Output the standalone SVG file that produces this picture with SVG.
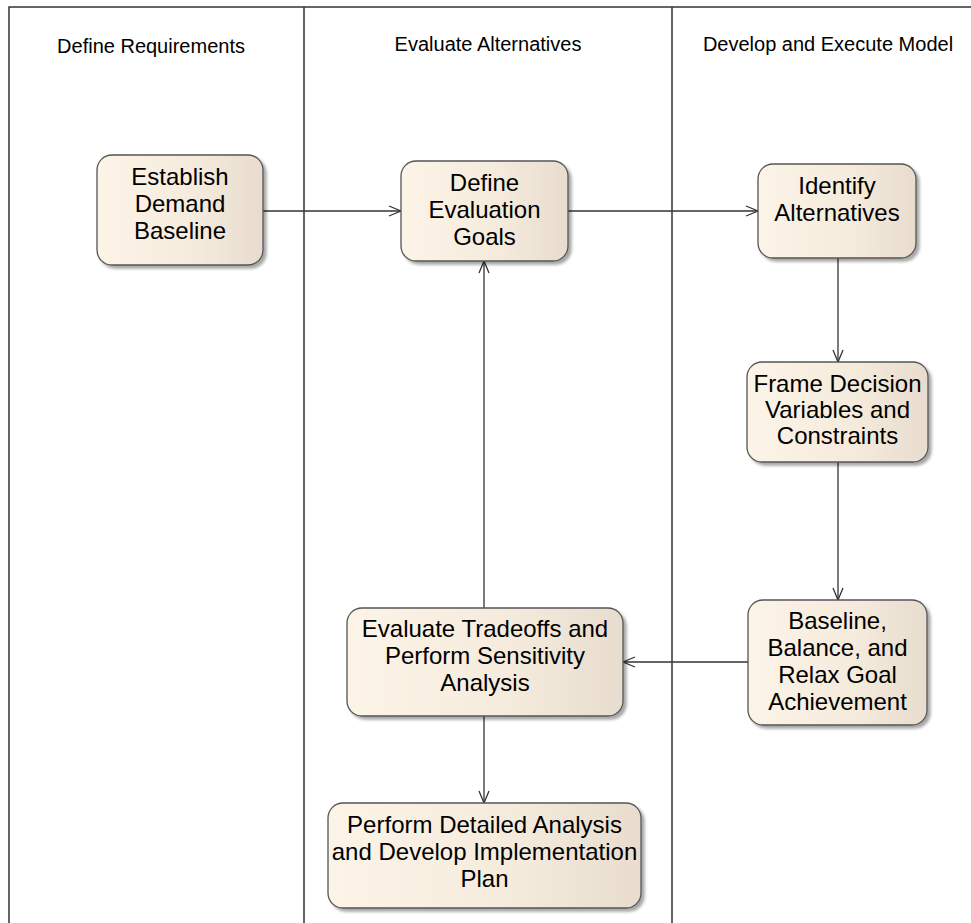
<svg xmlns="http://www.w3.org/2000/svg" width="971" height="923" viewBox="0 0 971 923">
<defs>
<linearGradient id="fill" x1="0" y1="0" x2="1" y2="0">
<stop offset="0" stop-color="#FCF4E7"/>
<stop offset="0.6" stop-color="#F5EBDD"/>
<stop offset="1" stop-color="#E7DCCD"/>
</linearGradient>
<filter id="shadow" x="-10%" y="-10%" width="125%" height="130%">
<feGaussianBlur in="SourceAlpha" stdDeviation="1.5"/>
<feOffset dx="3" dy="3" result="o"/>
<feComponentTransfer><feFuncA type="linear" slope="0.35"/></feComponentTransfer>
<feMerge><feMergeNode/><feMergeNode in="SourceGraphic"/></feMerge>
</filter>
<marker id="arrow" viewBox="0 0 14 12" refX="13" refY="6" markerWidth="14" markerHeight="12" markerUnits="userSpaceOnUse" orient="auto">
<path d="M1,1 L13,6 L1,11" fill="none" stroke="#333" stroke-width="1.3"/>
</marker>
</defs>
<style>
.lane{stroke:#333;stroke-width:1.5;fill:none}
.hdr{font-family:"Liberation Sans",Arial,sans-serif;font-size:20px;fill:#000;text-anchor:middle}
.box{fill:url(#fill);stroke:#555;stroke-width:1.3;filter:url(#shadow)}
.lbl{font-family:"Liberation Sans",Arial,sans-serif;font-size:24px;fill:#000;text-anchor:middle}
.conn{stroke:#333;stroke-width:1.3;fill:none;marker-end:url(#arrow)}
</style>
<rect width="971" height="923" fill="#fff"/>
<g id="lanes">
<path class="lane" d="M9,923 V7 H971" stroke="#666"/>
<line class="lane" x1="304" y1="7" x2="304" y2="923"/>
<line class="lane" x1="672" y1="7" x2="672" y2="923"/>
<text class="hdr" x="151" y="53">Define Requirements</text>
<text class="hdr" x="488" y="51">Evaluate Alternatives</text>
<text class="hdr" x="828" y="51">Develop and Execute Model</text>
</g>
<g id="connectors">
<line class="conn" x1="263" y1="211" x2="401" y2="211"/>
<line class="conn" x1="568" y1="211" x2="758" y2="211"/>
<line class="conn" x1="838" y1="258" x2="838" y2="362"/>
<line class="conn" x1="838" y1="462" x2="838" y2="600"/>
<line class="conn" x1="748" y1="662" x2="623" y2="662"/>
<line class="conn" x1="484" y1="608" x2="484" y2="261"/>
<line class="conn" x1="484" y1="716" x2="484" y2="803"/>
</g>
<g id="n1">
<rect class="box" x="97" y="155" width="166" height="110" rx="15"/>
<text class="lbl" x="180" y="185">Establish</text>
<text class="lbl" x="180" y="212">Demand</text>
<text class="lbl" x="180" y="239">Baseline</text>
</g>
<g id="n2">
<rect class="box" x="401" y="161" width="167" height="100" rx="15"/>
<text class="lbl" x="484.5" y="191">Define</text>
<text class="lbl" x="484.5" y="218">Evaluation</text>
<text class="lbl" x="484.5" y="245">Goals</text>
</g>
<g id="n3">
<rect class="box" x="758" y="164" width="158" height="94" rx="15"/>
<text class="lbl" x="837" y="194">Identify</text>
<text class="lbl" x="837" y="221">Alternatives</text>
</g>
<g id="n4">
<rect class="box" x="747" y="362" width="181" height="100" rx="15"/>
<text class="lbl" x="837.5" y="392">Frame Decision</text>
<text class="lbl" x="837.5" y="418">Variables and</text>
<text class="lbl" x="837.5" y="444">Constraints</text>
</g>
<g id="n5">
<rect class="box" x="748" y="600" width="179" height="125" rx="15"/>
<text class="lbl" x="837.5" y="629">Baseline,</text>
<text class="lbl" x="837.5" y="656">Balance, and</text>
<text class="lbl" x="837.5" y="683">Relax Goal</text>
<text class="lbl" x="837.5" y="710">Achievement</text>
</g>
<g id="n6">
<rect class="box" x="347" y="608" width="276" height="108" rx="15"/>
<text class="lbl" x="485" y="637">Evaluate Tradeoffs and</text>
<text class="lbl" x="485" y="664">Perform Sensitivity</text>
<text class="lbl" x="485" y="691">Analysis</text>
</g>
<g id="n7">
<rect class="box" x="328" y="803" width="313" height="105" rx="15"/>
<text class="lbl" x="484.5" y="833">Perform Detailed Analysis</text>
<text class="lbl" x="484.5" y="860">and Develop Implementation</text>
<text class="lbl" x="484.5" y="887">Plan</text>
</g>
</svg>
